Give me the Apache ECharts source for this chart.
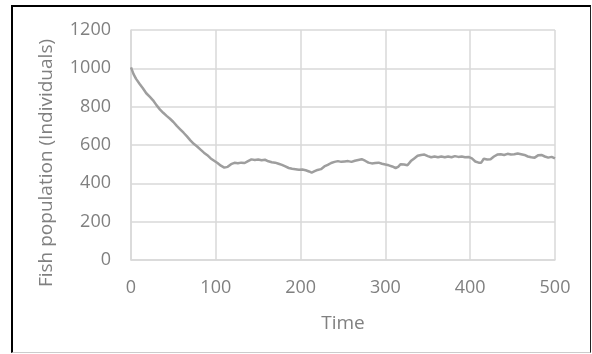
<!DOCTYPE html>
<html>
<head>
<meta charset="utf-8">
<script src="https://cdn.jsdelivr.net/npm/echarts@6/dist/echarts.min.js"></script>
<style>
  html, body { margin: 0; padding: 0; background: #fff; }
  #wrap { position: relative; width: 592px; height: 354px; }
  #frame {
    position: absolute; left: 11px; top: 5px; width: 577px; height: 345px;
    border-top: 2px solid #000; border-left: 2px solid #000;
    border-right: 1px solid #222; border-bottom: 1px solid #ccc;
  }
  #chart { position: absolute; left: 0; top: 0; width: 592px; height: 354px; }
</style>
</head>
<body>
<div id="wrap">
  <div id="frame"></div>
  <div id="chart"></div>
</div>
<script>
// time steps and fish population
var time = [0, 3, 6, 10, 14, 18, 22, 26, 30, 34, 38, 42, 46, 50, 54, 58, 62, 66, 70, 74,
  78, 82, 86, 90, 94, 98, 102, 106, 110, 114, 118, 122, 126, 130, 134, 138, 142, 146, 150, 154,
  158, 162, 166, 170, 174, 178, 182, 186, 190, 194, 198, 202, 206, 210, 213, 216, 220, 224, 228, 232,
  236, 240, 244, 248, 252, 256, 260, 264, 268, 272, 276, 280, 284, 288, 292, 296, 300, 304, 308, 312,
  315, 318, 322, 326, 330, 334, 338, 342, 346, 350, 354, 358, 362, 366, 370, 374, 378, 382, 386, 390,
  394, 398, 402, 406, 410, 413, 416, 420, 424, 428, 432, 436, 440, 444, 448, 452, 456, 460, 464, 468,
  472, 476, 480, 484, 488, 492, 496, 500];
var population = [1005, 970, 945, 920, 896, 870, 852, 833, 808, 786, 768, 752, 737, 720, 700, 682, 664, 645, 624, 606,
  592, 576, 560, 547, 530, 518, 506, 492, 482, 486, 500, 507, 505, 508, 506, 516, 525, 522, 524, 520,
  523, 515, 510, 508, 502, 496, 488, 480, 476, 474, 471, 472, 468, 462, 456, 462, 470, 474, 488, 496,
  506, 512, 516, 512, 514, 516, 512, 518, 522, 526, 518, 508, 504, 506, 508, 502, 498, 494, 488, 480,
  486, 500, 498, 494, 516, 530, 544, 548, 550, 542, 536, 540, 536, 540, 536, 540, 536, 542, 538, 540,
  536, 538, 530, 514, 508, 508, 528, 524, 526, 540, 550, 552, 548, 554, 550, 552, 556, 552, 548, 540,
  536, 534, 546, 548, 540, 534, 538, 530];

var seriesData = time.map(function (t, i) { return [t, population[i]]; });

var chart = echarts.init(document.getElementById("chart"));
var gridLine = { lineStyle: { color: "#d9d9d9", width: 1.5 } };
var labelStyle = { color: "#808080", fontSize: 18, fontFamily: "Open Sans" };

chart.setOption({
  animation: false,
  grid: { left: 131, right: 37, top: 30, bottom: 94 },
  xAxis: {
    type: "value",
    min: 0,
    max: 500,
    interval: 100,
    axisLine: { show: true, lineStyle: { color: "#d9d9d9", width: 1.5 } },
    axisTick: { show: false },
    splitLine: gridLine,
    axisLabel: Object.assign({ margin: 19 }, labelStyle),
    name: "Time",
    nameLocation: "middle",
    nameGap: 54,
    nameTextStyle: { color: "#808080", fontSize: 19, fontFamily: "Open Sans" }
  },
  yAxis: {
    type: "value",
    min: 0,
    max: 1200,
    interval: 200,
    axisLine: { show: true, lineStyle: { color: "#d9d9d9", width: 1.5 } },
    axisTick: { show: false },
    splitLine: gridLine,
    axisLabel: Object.assign({ margin: 20, formatter: function (v) { return String(v); } }, labelStyle)
  },
  graphic: [{
    type: "text",
    x: 47,
    y: 163,
    rotation: Math.PI / 2,
    style: {
      text: "Fish population (Individuals)",
      fill: "#808080",
      font: "19px 'Open Sans'",
      textAlign: "center",
      textVerticalAlign: "middle"
    }
  }],
  series: [{
    type: "line",
    data: seriesData,
    showSymbol: false,
    lineStyle: { color: "#9e9e9e", width: 2.5 }
  }]
});
</script>
</body>
</html>
